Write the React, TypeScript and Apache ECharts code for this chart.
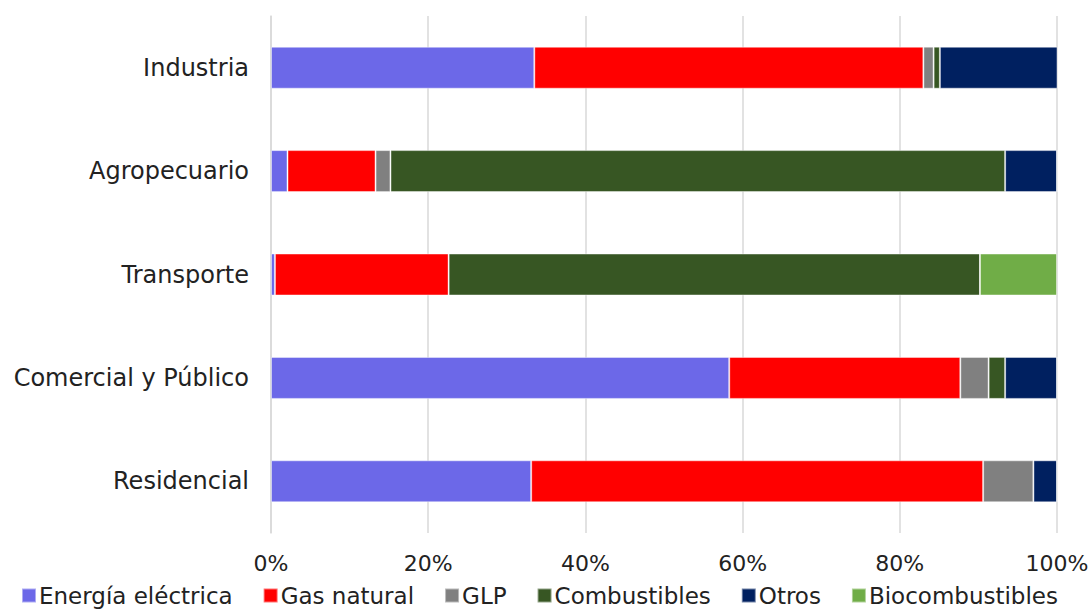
import React, { useEffect, useRef } from "react";
import * as echarts from "echarts";

const categories = ["Industria", "Agropecuario", "Transporte", "Comercial y Público", "Residencial"];
const seriesNames = ["Energía eléctrica", "Gas natural", "GLP", "Combustibles", "Otros", "Biocombustibles"];
const colors = ["#6C68E8", "#FF0000", "#808080", "#375623", "#002060", "#70AD47"];
const energiaElectrica = [33.5, 2.1, 0.5, 58.3, 33.1];
const gasNatural = [49.5, 11.2, 22.1, 29.4, 57.5];
const glp = [1.3, 1.9, 0, 3.6, 6.4];
const combustibles = [0.8, 78.2, 67.6, 2.1, 0];
const otros = [15.0, 6.6, 0, 6.6, 3.0];
const biocombustibles = [0, 0, 9.8, 0, 0];
const xTicks = [0, 20, 40, 60, 80, 100];

const FONT = "'DejaVu Sans', sans-serif";

export default function App() {
  const ref = useRef<HTMLDivElement>(null);
  useEffect(() => {
    if (!ref.current) return;
    const chart = echarts.init(ref.current, null, { renderer: "svg" });
    const data = [energiaElectrica, gasNatural, glp, combustibles, otros, biocombustibles];
    chart.setOption({
      animation: false,
      color: colors,
      textStyle: { fontFamily: FONT },
      grid: { left: 271, right: 35, top: 16, bottom: 79 },
      legend: {
        bottom: 0,
        left: 16,
        itemWidth: 14,
        itemHeight: 14,
        itemGap: 30,
        icon: "rect",
        textStyle: { fontSize: 23, color: "#222", fontFamily: FONT, padding: [0, 0, 0, -2] },
        data: seriesNames,
      },
      xAxis: {
        type: "value",
        min: xTicks[0],
        max: xTicks[xTicks.length - 1],
        interval: 20,
        axisLabel: { formatter: "{value}%", fontSize: 22, color: "#222", margin: 19, fontFamily: FONT },
        splitLine: { show: true, lineStyle: { color: "#D9D9D9", width: 1.5 } },
        axisLine: { show: false },
        axisTick: { show: false },
      },
      yAxis: {
        type: "category",
        inverse: true,
        data: categories,
        axisLine: { show: true, lineStyle: { color: "#D9D9D9", width: 1.5 } },
        axisTick: { show: false },
        axisLabel: { fontSize: 24, color: "#222", margin: 22, fontFamily: FONT },
      },
      series: seriesNames.map((name, i) => ({
        name,
        type: "bar",
        stack: "total",
        barWidth: 42,
        data: data[i],
        itemStyle: { borderColor: "rgba(255,255,255,0.45)", borderWidth: 1 },
      })),
    });
    return () => chart.dispose();
  }, []);
  return <div ref={ref} style={{ width: 1092, height: 612, position: "absolute", left: 0, top: 0 }} />;
}
